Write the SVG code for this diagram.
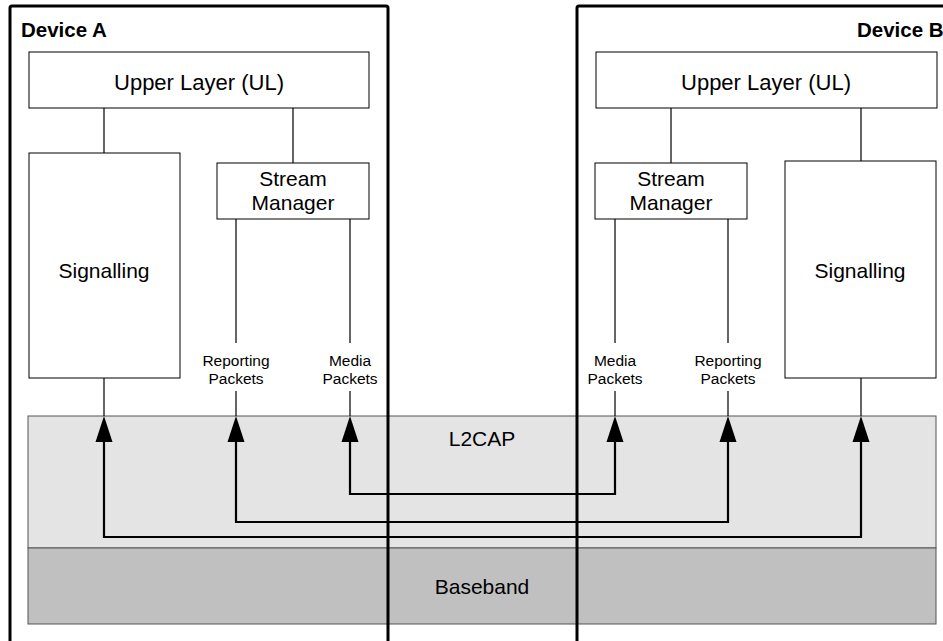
<svg xmlns="http://www.w3.org/2000/svg" width="943" height="641" viewBox="0 0 943 641">
<defs>
<style>
text{font-family:"Liberation Sans",Arial,sans-serif;fill:#000;text-anchor:middle}
.box{fill:#fff;stroke:#000;stroke-width:1}
.thin{stroke:#000;stroke-width:1.2;fill:none}
.thick{stroke:#000;stroke-width:2.2;fill:none}
.dev{fill:none;stroke:#000;stroke-width:3}
.big{font-size:21px}
.ul{font-size:22px}
.small{font-size:15.5px}
.devlbl{font-size:20.5px;font-weight:bold;text-anchor:start}
.head{fill:#000}
</style>
</defs>
<rect width="943" height="641" fill="#fff"/>
<g id="l2cap"><rect x="28" y="416" width="908" height="132" fill="#e4e4e4" stroke="#555" stroke-width="1"/><text class="big" x="482" y="446">L2CAP</text></g>
<g id="baseband"><rect x="28" y="548" width="908" height="76" fill="#c0c0c0" stroke="#555" stroke-width="1"/><text class="big" x="482" y="594">Baseband</text></g>
<g id="ulA"><rect class="box" x="29" y="52" width="340" height="56"/><text class="ul" x="199" y="90">Upper Layer (UL)</text></g>
<g id="sigA"><rect class="box" x="29" y="153" width="151" height="225"/><text class="big" x="104" y="278">Signalling</text></g>
<g id="smA"><rect class="box" x="217" y="163" width="152" height="56"/><text class="big" x="293" y="186">Stream</text><text class="big" x="293" y="210">Manager</text></g>
<g id="ulB"><rect class="box" x="596" y="52" width="341" height="56"/><text class="ul" x="766" y="90">Upper Layer (UL)</text></g>
<g id="sigB"><rect class="box" x="785" y="161" width="151" height="217"/><text class="big" x="860" y="278">Signalling</text></g>
<g id="smB"><rect class="box" x="595" y="163" width="152" height="56"/><text class="big" x="671" y="186">Stream</text><text class="big" x="671" y="210">Manager</text></g>
<g id="labels">
<text class="small" x="236" y="366">Reporting</text><text class="small" x="236" y="384">Packets</text>
<text class="small" x="350" y="366">Media</text><text class="small" x="350" y="384">Packets</text>
<text class="small" x="615" y="366">Media</text><text class="small" x="615" y="384">Packets</text>
<text class="small" x="728" y="366">Reporting</text><text class="small" x="728" y="384">Packets</text>
</g>
<g id="connectors">
<path class="thin" d="M104 108V153M293 108V163M671 108V163M861 108V161"/>
<path class="thin" d="M236 219V343M350 219V343M615 219V343M728 219V343"/>
<path class="thin" d="M236 391V416M350 391V416M615 391V416M728 391V416M104 378V416M861 378V416"/>
<path class="thick" d="M104 441V537H861V441"/>
<path class="thick" d="M236 441V522H728V441"/>
<path class="thick" d="M350 441V494H615V441"/>
<g class="head">
<polygon points="104,416 95.5,442 112.5,442"/>
<polygon points="236,416 227.5,442 244.5,442"/>
<polygon points="350,416 341.5,442 358.5,442"/>
<polygon points="615,416 606.5,442 623.5,442"/>
<polygon points="728,416 719.5,442 736.5,442"/>
<polygon points="861,416 852.5,442 869.5,442"/>
</g>
</g>
<g id="deviceA"><rect class="dev" x="10" y="6" width="378" height="660" rx="2"/><text class="devlbl" x="21" y="37">Device A</text></g>
<g id="deviceB"><rect class="dev" x="577" y="6" width="400" height="660" rx="2"/><text class="devlbl" x="857" y="37">Device B</text></g>
</svg>
